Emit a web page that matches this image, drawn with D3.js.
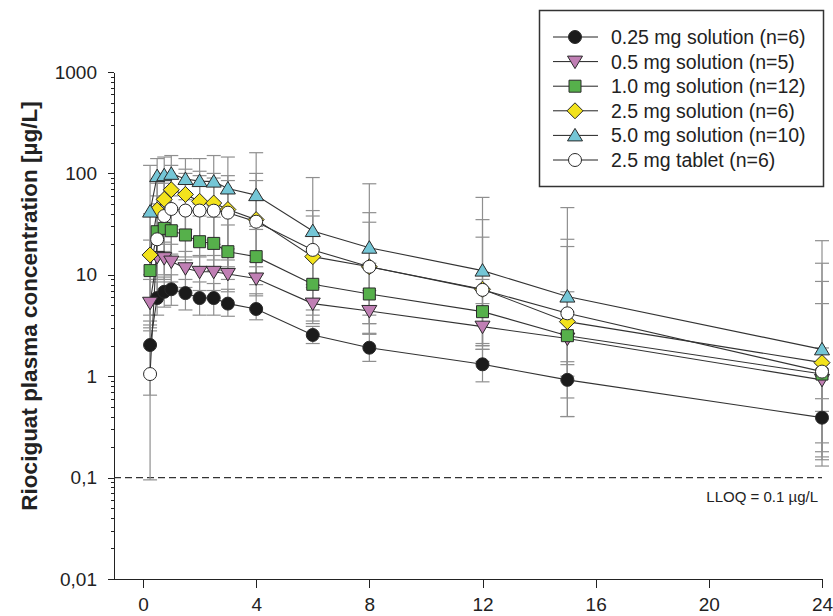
<!DOCTYPE html>
<meta charset="utf-8">
<script src="https://d3js.org/d3.v7.min.js"></script>
<style>
  body { margin: 0; background: #fff; }
  text { font-family: "Liberation Sans", Arial, sans-serif; fill: #222; }
  .axis path, .axis line { stroke: #222; stroke-width: 1px; shape-rendering: crispEdges; }
  .ebar { stroke: #8f8f8f; stroke-width: 1.2px; fill: none; }
  .curve { stroke: #333; stroke-width: 1.1px; fill: none; }
</style>
<body>
<div id="my_dataviz"></div>
<script>

// sampling times (h)
var times = [0.25, 0.5, 0.75, 1, 1.5, 2, 2.5, 3, 4, 6, 8, 12, 15, 24];
var xTicks = [0, 4, 8, 12, 16, 20, 24];
var yTicks = [0.01, 0.1, 1, 10, 100, 1000];
var yTickLabels = ["0,01", "0,1", "1", "10", "100", "1000"];

var labels = ["0.25 mg solution (n=6)", "0.5 mg solution (n=5)", "1.0 mg solution (n=12)",
              "2.5 mg solution (n=6)", "5.0 mg solution (n=10)", "2.5 mg tablet (n=6)"];

// means and error bar ends
var mean025 = [2.03, 5.9, 6.8, 7.2, 6.6, 5.9, 5.9, 5.2, 4.6, 2.55, 1.91, 1.31, 0.92, 0.39];
var upper025 = [3.2, 8.5, 9.5, 10, 9, 8.5, 8.2, 7.2, 6.5, 3.1, 2.6, 1.84, 1.39, 0.6];
var lower025 = [0.65, 4, 4.8, 5, 4.5, 4, 4, 3.9, 3.6, 2.1, 1.4, 0.88, 0.4, 0.13];

var mean05 = [5.3, 15, 14.6, 13.5, 11.6, 10.7, 10.7, 10.2, 9.2, 5.2, 4.4, 3.08, 2.35, 0.92];
var upper05 = [9, 22, 21, 20, 17, 15.5, 15.5, 14, 13.5, 7.5, 7, 5.2, 4.3, 1.9];
var lower05 = [2.8, 9, 9, 8.5, 7.5, 7, 7, 6.8, 6.2, 3.3, 2.65, 2.0, 1.3, 0.45];

var mean10 = [11, 26.6, 28.7, 27.2, 24.7, 21.2, 20.4, 16.9, 15.1, 8.06, 6.47, 4.33, 2.51, 1.05];
var upper10 = [22, 45, 48, 46, 42, 38, 37, 31, 28, 15, 13, 9, 6.8, 5.2];
var lower10 = [4, 15, 17, 16, 14, 12, 11, 9, 8, 4, 3.3, 2.1, 0.9, 0.18];

var mean25 = [15.7, 43.5, 55.5, 69, 62, 53, 51, 44, 35, 15.1, 12, 7.2, 3.45, 1.36];
var upper25 = [40, 80, 100, 120, 110, 105, 100, 95, 100, 43, 33, 23.5, 19, 13];
var lower25 = [3, 20, 25, 30, 28, 22, 20, 18, 12, 4.5, 3.3, 1.84, 0.61, 0.15];

var mean50 = [42, 94, 96, 99, 88, 84, 83, 71, 61, 27, 18.5, 11, 6.1, 1.84];
var upper50 = [120, 140, 145, 150, 140, 140, 150, 145, 160, 91, 79, 58, 46, 21.7];
var lower50 = [10, 50, 55, 60, 55, 50, 48, 40, 30, 8, 4, 2, 1, 0.22];

var meanTab = [1.05, 22.4, 38, 44.6, 43, 43, 42.9, 41, 33.4, 17.6, 12, 7.1, 4.17, 1.11];
var upperTab = [3.5, 60, 80, 95, 100, 95, 90, 85, 85, 38, 41, 35, 22.4, 8.6];
var lowerTab = [0.095, 6, 10, 14, 15, 15, 14, 12, 10, 3.5, 2.6, 1.4, 0.4, 0.16];

var lloqValue = 0.1;

var series = [
  {name: labels[0], mean: mean025, up: upper025, lo: lower025, shape: "circle", fill: "#1b1b1b"},
  {name: labels[1], mean: mean05, up: upper05, lo: lower05, shape: "triDown", fill: "#c07fb4"},
  {name: labels[2], mean: mean10, up: upper10, lo: lower10, shape: "square", fill: "#56b04b"},
  {name: labels[3], mean: mean25, up: upper25, lo: lower25, shape: "diamond", fill: "#f2e21c"},
  {name: labels[4], mean: mean50, up: upper50, lo: lower50, shape: "triUp", fill: "#74c6d6"},
  {name: labels[5], mean: meanTab, up: upperTab, lo: lowerTab, shape: "circle", fill: "#ffffff"}
];

var width = 833, height = 616;

var svg = d3.select("#my_dataviz")
  .append("svg")
    .attr("width", width)
    .attr("height", height);

var x = d3.scaleLinear().domain([0, 24]).range([143, 822]);
var y = d3.scaleLog().domain([0.01, 1000]).range([579, 72]);

function markerPath(shape) {
  if (shape == "circle") return "M6.5,0A6.5,6.5 0 1,1 -6.5,0A6.5,6.5 0 1,1 6.5,0Z";
  if (shape == "square") return "M-6,-6H6V6H-6Z";
  if (shape == "diamond") return "M0,-8L8,0L0,8L-8,0Z";
  if (shape == "triUp") return "M0,-7L7.5,5.5L-7.5,5.5Z";
  if (shape == "triDown") return "M0,7L7.5,-5.5L-7.5,-5.5Z";
}

// y axis minor ticks
var minor = [];
yTicks.slice(0, -1).forEach(function(d) {
  for (var k = 2; k <= 9; k++) minor.push(d * k);
});
svg.append("g")
  .attr("class", "axis")
  .attr("transform", "translate(114,0)")
  .call(d3.axisLeft(y).tickValues(minor).tickSize(3).tickFormat(""))
  .select(".domain").remove();

svg.append("g")
  .attr("class", "axis")
  .attr("transform", "translate(114,0)")
  .call(d3.axisLeft(y).tickValues(yTicks).tickSize(6).tickSizeOuter(0).tickPadding(11)
    .tickFormat(function(d, i) { return yTickLabels[i]; }))
  .call(function(g) { g.selectAll("text").style("font-size", "19px").attr("fill", "#222"); });

// x axis
var xg = svg.append("g")
  .attr("class", "axis")
  .attr("transform", "translate(0,579)")
  .call(d3.axisBottom(x).tickValues(xTicks).tickSize(9).tickPadding(10))
  .call(function(g) { g.selectAll("text").style("font-size", "19px").attr("fill", "#222"); });
xg.select(".domain").remove();
xg.append("line")
  .attr("x1", 108).attr("x2", 822)
  .attr("y1", 0).attr("y2", 0);

// y title
svg.append("text")
  .attr("transform", "translate(37," + 306 + ") rotate(-90)")
  .attr("text-anchor", "middle")
  .style("font-size", "22.5px")
  .style("font-weight", "bold")
  .text("Riociguat plasma concentration [µg/L]");

// LLOQ
svg.append("line")
  .attr("x1", 114).attr("x2", 822)
  .attr("y1", y(lloqValue)).attr("y2", y(lloqValue))
  .attr("stroke", "#333")
  .attr("stroke-width", 1.2)
  .attr("stroke-dasharray", "7,4");
svg.append("text")
  .attr("x", 818).attr("y", y(lloqValue) + 24)
  .attr("text-anchor", "end")
  .style("font-size", "15px")
  .text("LLOQ = 0.1 µg/L");

// error bars
series.forEach(function(s) {
  var g = svg.append("g");
  times.forEach(function(t, i) {
    var cx = x(t);
    g.append("line").attr("class", "ebar")
      .attr("x1", cx).attr("x2", cx)
      .attr("y1", y(s.up[i])).attr("y2", y(s.lo[i]));
    [s.up[i], s.lo[i]].forEach(function(v) {
      g.append("line").attr("class", "ebar")
        .attr("x1", cx - 7).attr("x2", cx + 7)
        .attr("y1", y(v)).attr("y2", y(v));
    });
  });
});

// lines
var line = d3.line()
  .x(function(d) { return x(d[0]); })
  .y(function(d) { return y(d[1]); });

series.forEach(function(s) {
  svg.append("path")
    .attr("class", "curve")
    .attr("d", line(times.map(function(t, i) { return [t, s.mean[i]]; })));
});

// markers
series.forEach(function(s) {
  svg.append("g")
    .selectAll("path")
    .data(times)
    .enter()
    .append("path")
      .attr("transform", function(t, i) { return "translate(" + x(t) + "," + y(s.mean[i]) + ")"; })
      .attr("d", markerPath(s.shape))
      .attr("fill", s.fill)
      .attr("stroke", "#2a2a2a")
      .attr("stroke-width", 1);
});

// legend
var legend = svg.append("g");
legend.append("rect")
  .attr("x", 539.5).attr("y", 10.5)
  .attr("width", 284).attr("height", 176)
  .attr("fill", "#fff")
  .attr("stroke", "#333")
  .attr("stroke-width", 1.5);

series.forEach(function(s, i) {
  var ly = 37 + i * 24.6;
  legend.append("line")
    .attr("x1", 553).attr("x2", 598)
    .attr("y1", ly).attr("y2", ly)
    .attr("stroke", "#222").attr("stroke-width", 1);
  legend.append("path")
    .attr("transform", "translate(575," + ly + ")")
    .attr("d", markerPath(s.shape))
    .attr("fill", s.fill)
    .attr("stroke", "#2a2a2a");
  legend.append("text")
    .attr("x", 611).attr("y", ly)
    .attr("dy", "0.36em")
    .style("font-size", "19.5px")
    .text(s.name);
});

</script>
</body>
</html>
